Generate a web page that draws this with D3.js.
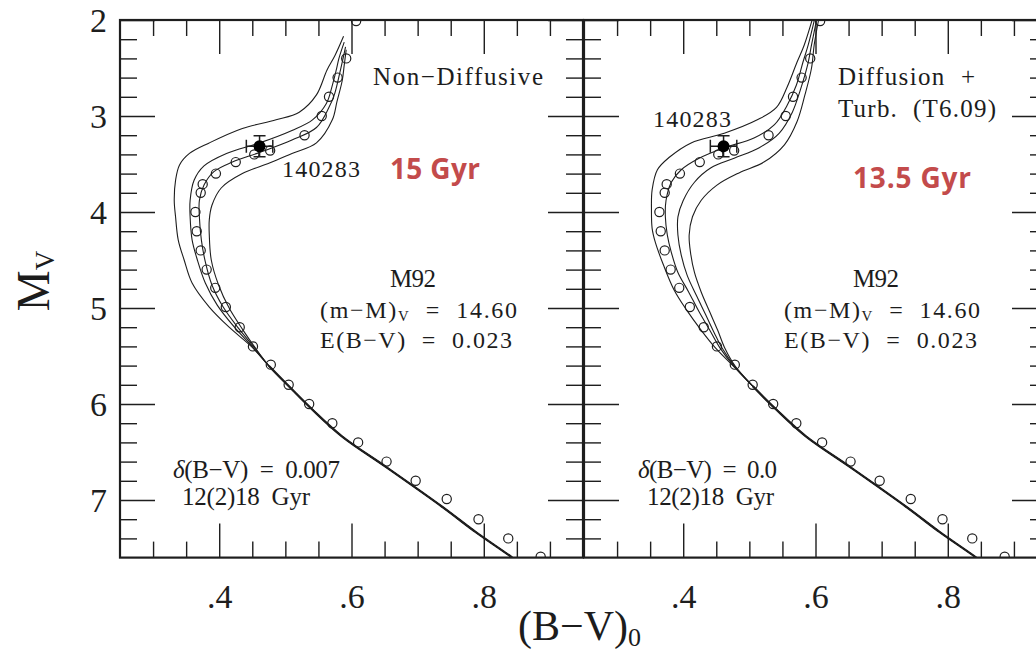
<!DOCTYPE html>
<html>
<head>
<meta charset="utf-8">
<script src="https://cdn.jsdelivr.net/npm/d3@7"></script>
<style>
  html, body { margin: 0; padding: 0; background: #fff; }
  svg { display: block; }
  .lbl { font-family: "Liberation Serif", "Times New Roman", serif; fill: #1c1c1c; white-space: pre; }
  .age { font-family: "Open Sans", sans-serif; font-weight: 700; fill: #c34b4b; white-space: pre; }
</style>
</head>
<body>
<svg id="chart" width="1036" height="655"></svg>
<script>
// ---- Axis ticks -----------------------------------------------------------
const xMajorTicks = [0.4, 0.6, 0.8];
const xTickLabels = [".4", ".6", ".8"];
const xMinorTicks = [0.30, 0.35, 0.45, 0.50, 0.55, 0.65, 0.70, 0.75, 0.85, 0.90];
const yMajorTicks = [2, 3, 4, 5, 6, 7];
const yTickLabels = ["2", "3", "4", "5", "6", "7"];
const yMinorTicks = [2.2, 2.4, 2.6, 2.8, 3.2, 3.4, 3.6, 3.8, 4.2, 4.4, 4.6, 4.8,
                     5.2, 5.4, 5.6, 5.8, 6.2, 6.4, 6.6, 6.8, 7.2, 7.4];

// ---- M92 fiducial sequence: (B-V)0 and M_V --------------------------------
const fiducialBV = [0.607, 0.592, 0.579, 0.566, 0.555, 0.529, 0.477, 0.453, 0.425, 0.395,
                    0.375, 0.372, 0.364, 0.366, 0.372, 0.381, 0.394, 0.410, 0.431, 0.451,
                    0.478, 0.505, 0.536, 0.571, 0.610, 0.653, 0.697, 0.744, 0.792, 0.837, 0.886];
const fiducialMV = [2.01, 2.40, 2.60, 2.80, 3.00, 3.20, 3.36, 3.40, 3.48, 3.60,
                    3.71, 3.80, 4.00, 4.20, 4.40, 4.60, 4.79, 4.99, 5.20, 5.40,
                    5.59, 5.80, 6.00, 6.20, 6.40, 6.60, 6.80, 6.99, 7.20, 7.40, 7.59];

// ---- HD 140283 ------------------------------------------------------------
const starBV = 0.461, starMV = 3.315;
const starErrBV = 0.02, starErrMV = 0.11;

// ---- Isochrones, 12(2)18 Gyr, upper parts [B-V, M_V] -----------------------
// Non-diffusive models
const nonDiff12 = [[0.588,2.17],[0.575,2.37],[0.563,2.52],[0.547,2.78],[0.521,2.96],[0.486,3.04],
  [0.435,3.13],[0.385,3.28],[0.355,3.39],[0.340,3.51],[0.334,3.67],[0.332,3.88],[0.334,4.05],
  [0.338,4.29],[0.347,4.50],[0.359,4.74],[0.385,4.99],[0.415,5.20],[0.450,5.41]];
const nonDiff14 = [[0.589,2.23],[0.581,2.40],[0.577,2.52],[0.571,2.68],[0.562,2.87],[0.541,3.04],
  [0.510,3.15],[0.461,3.28],[0.411,3.39],[0.377,3.52],[0.362,3.67],[0.356,3.88],[0.356,4.05],
  [0.359,4.29],[0.367,4.50],[0.379,4.74],[0.397,4.97],[0.423,5.20],[0.451,5.41]];
const nonDiff16 = [[0.591,2.28],[0.586,2.44],[0.581,2.59],[0.574,2.78],[0.566,2.91],[0.547,3.12],
  [0.510,3.25],[0.461,3.38],[0.420,3.48],[0.392,3.58],[0.377,3.72],[0.370,3.88],[0.370,4.05],
  [0.373,4.29],[0.379,4.52],[0.389,4.76],[0.406,4.99],[0.429,5.21],[0.453,5.41]];
const nonDiff18 = [[0.592,2.31],[0.589,2.47],[0.586,2.63],[0.578,2.85],[0.571,3.04],[0.547,3.28],
  [0.510,3.39],[0.476,3.49],[0.435,3.60],[0.403,3.75],[0.389,3.93],[0.385,4.08],[0.385,4.24],
  [0.388,4.50],[0.399,4.76],[0.415,5.00],[0.436,5.23],[0.454,5.41]];

// Diffusion + turbulence (T6.09) models
const diff12 = [[0.597,1.95],[0.583,2.26],[0.572,2.44],[0.557,2.70],[0.541,2.91],[0.512,3.04],
  [0.462,3.18],[0.412,3.28],[0.379,3.43],[0.361,3.56],[0.353,3.77],[0.352,3.98],[0.353,4.17],
  [0.358,4.32],[0.370,4.55],[0.386,4.81],[0.405,5.02],[0.427,5.23],[0.448,5.41],[0.475,5.60]];
const diff14 = [[0.600,1.95],[0.589,2.26],[0.581,2.44],[0.571,2.68],[0.557,2.89],[0.538,3.09],
  [0.507,3.23],[0.462,3.33],[0.424,3.44],[0.397,3.56],[0.382,3.69],[0.374,3.88],[0.373,4.05],
  [0.376,4.24],[0.382,4.42],[0.392,4.63],[0.408,4.83],[0.424,5.04],[0.440,5.23],[0.455,5.41],[0.476,5.60]];
const diff16 = [[0.603,1.95],[0.594,2.26],[0.588,2.47],[0.577,2.73],[0.565,2.96],[0.545,3.18],
  [0.515,3.33],[0.477,3.44],[0.442,3.54],[0.417,3.69],[0.400,3.88],[0.392,4.05],[0.392,4.24],
  [0.397,4.45],[0.406,4.66],[0.420,4.87],[0.434,5.07],[0.447,5.26],[0.459,5.42],[0.477,5.60]];
const diff18 = [[0.606,1.95],[0.598,2.26],[0.594,2.50],[0.584,2.78],[0.572,3.06],[0.553,3.30],
  [0.522,3.48],[0.485,3.59],[0.451,3.72],[0.427,3.88],[0.414,4.05],[0.409,4.24],[0.411,4.42],
  [0.417,4.63],[0.427,4.83],[0.440,5.04],[0.452,5.23],[0.463,5.42],[0.478,5.60]];

// Lower main sequence shared by all ages
const lowerMS = [[0.476,5.61],[0.506,5.82],[0.541,6.06],[0.586,6.34],[0.653,6.66],
  [0.737,7.07],[0.789,7.34],[0.843,7.60],[0.848,7.63]];

// ---- Layout -----------------------------------------------------------------
const svg = d3.select("#chart");
const ink = "#1e1e1e";
const xDomain = [0.25, 0.95];
const yDomain = [2, 7.6];
const panelWidth = 463;
const y = d3.scaleLinear().domain(yDomain).range([20, 557.6]);
const defs = svg.append("defs");

const panels = [
  { id: "nd", left: 120, isochrones: [nonDiff12, nonDiff14, nonDiff16, nonDiff18], msStart: 5.6, yLabels: true },
  { id: "df", left: 584, isochrones: [diff12, diff14, diff16, diff18], msStart: 5.8, yLabels: false }
];

function styleAxis(g, width) {
  g.select(".domain").remove();
  g.attr("color", ink);
  g.selectAll(".tick line").attr("stroke-width", width);
}

panels.forEach(p => {
  const x = d3.scaleLinear().domain(xDomain).range([p.left, p.left + panelWidth]);
  const g = svg.append("g");

  defs.append("clipPath").attr("id", "clip-" + p.id).append("rect")
    .attr("x", x(xDomain[0])).attr("y", y(yDomain[0]))
    .attr("width", x(xDomain[1]) - x(xDomain[0]))
    .attr("height", y(yDomain[1]) - y(yDomain[0]));
  const plot = g.append("g").attr("clip-path", `url(#clip-${p.id})`);

  const line = d3.line().x(d => x(d[0])).y(d => y(d[1])).curve(d3.curveCatmullRom.alpha(0.5));

  // isochrones
  p.isochrones.forEach(iso => {
    const lastMV = iso[iso.length - 1][1];
    const pts = iso.concat(lowerMS.filter(d => d[1] > lastMV + 0.05));
    plot.append("path").attr("d", line(pts))
      .attr("fill", "none").attr("stroke", ink).attr("stroke-width", 1.1);
  });
  // merged main sequence
  plot.append("path").attr("d", line(lowerMS.filter(d => d[1] >= p.msStart - 0.05)))
    .attr("fill", "none").attr("stroke", ink).attr("stroke-width", 2.3)
    .attr("stroke-linecap", "round");

  // fiducial points
  plot.selectAll("circle.fid")
    .data(fiducialBV.map((b, i) => [b, fiducialMV[i]]))
    .join("circle").attr("class", "fid")
    .attr("cx", d => x(d[0])).attr("cy", d => y(d[1])).attr("r", 4.6)
    .attr("fill", "none").attr("stroke", ink).attr("stroke-width", 1.2);

  // HD 140283 with error bars
  const sx = x(starBV), sy = y(starMV);
  const eb = plot.append("g").attr("stroke", ink).attr("stroke-width", 1.5).attr("fill", "none");
  eb.append("line").attr("x1", sx).attr("x2", sx).attr("y1", y(starMV - starErrMV)).attr("y2", y(starMV + starErrMV));
  eb.append("line").attr("x1", sx - 6).attr("x2", sx + 6).attr("y1", y(starMV - starErrMV)).attr("y2", y(starMV - starErrMV));
  eb.append("line").attr("x1", sx - 6).attr("x2", sx + 6).attr("y1", y(starMV + starErrMV)).attr("y2", y(starMV + starErrMV));
  eb.append("line").attr("x1", x(starBV - starErrBV)).attr("x2", x(starBV + starErrBV)).attr("y1", sy).attr("y2", sy);
  eb.append("line").attr("x1", x(starBV - starErrBV)).attr("x2", x(starBV - starErrBV)).attr("y1", sy - 6.5).attr("y2", sy + 6.5);
  eb.append("line").attr("x1", x(starBV + starErrBV)).attr("x2", x(starBV + starErrBV)).attr("y1", sy - 6.5).attr("y2", sy + 6.5);
  plot.append("circle").attr("cx", sx).attr("cy", sy).attr("r", 6).attr("fill", "#000");

  // ticks on all four sides, pointing inward
  const xT = y(yDomain[0]), xB = y(yDomain[1]);
  const yL = x(xDomain[0]), yR = x(xDomain[1]);
  g.append("g").attr("transform", `translate(0,${xT})`)
    .call(d3.axisTop(x).tickValues(xMinorTicks).tickSizeInner(-16).tickSizeOuter(0).tickFormat(""))
    .call(a => styleAxis(a, 1.4));
  g.append("g").attr("transform", `translate(0,${xT})`)
    .call(d3.axisTop(x).tickValues(xMajorTicks).tickSizeInner(-34).tickSizeOuter(0).tickFormat(""))
    .call(a => styleAxis(a, 1.4));
  g.append("g").attr("transform", `translate(0,${xB})`)
    .call(d3.axisBottom(x).tickValues(xMinorTicks).tickSizeInner(-16).tickSizeOuter(0).tickFormat(""))
    .call(a => styleAxis(a, 1.4));
  const bottomMajor = g.append("g").attr("transform", `translate(0,${xB})`)
    .call(d3.axisBottom(x).tickValues(xMajorTicks).tickSizeInner(-34).tickSizeOuter(0)
      .tickFormat((d, i) => xTickLabels[i]))
    .call(a => styleAxis(a, 1.4));
  bottomMajor.attr("font-family", "'Liberation Serif', serif").attr("font-size", 34);
  bottomMajor.selectAll("text").attr("y", 50).attr("dy", 0).attr("fill", ink);

  g.append("g").attr("transform", `translate(${yL},0)`)
    .call(d3.axisLeft(y).tickValues(yMinorTicks).tickSizeInner(-17).tickSizeOuter(0).tickFormat(""))
    .call(a => styleAxis(a, 1.4));
  const leftMajor = g.append("g").attr("transform", `translate(${yL},0)`)
    .call(d3.axisLeft(y).tickValues(yMajorTicks).tickSizeInner(-35).tickSizeOuter(0)
      .tickPadding(13).tickFormat((d, i) => p.yLabels ? yTickLabels[i] : ""))
    .call(a => styleAxis(a, 1.4));
  leftMajor.attr("font-family", "'Liberation Serif', serif").attr("font-size", 34);
  leftMajor.selectAll("text").attr("dy", "0.33em").attr("fill", ink);

  g.append("g").attr("transform", `translate(${yR},0)`)
    .call(d3.axisRight(y).tickValues(yMinorTicks).tickSizeInner(-17).tickSizeOuter(0).tickFormat(""))
    .call(a => styleAxis(a, 1.4));
  g.append("g").attr("transform", `translate(${yR},0)`)
    .call(d3.axisRight(y).tickValues(yMajorTicks).tickSizeInner(-35).tickSizeOuter(0).tickFormat(""))
    .call(a => styleAxis(a, 1.4));

  // frame
  g.append("rect").attr("x", yL).attr("y", xT).attr("width", yR - yL).attr("height", xB - xT)
    .attr("fill", "none").attr("stroke", ink).attr("stroke-width", 2.2);
});

// ---- Annotations ------------------------------------------------------------
function addText(parts, x, yb, width, size, cls) {
  const t = svg.append("text").attr("class", cls || "lbl")
    .attr("x", x).attr("y", yb).attr("font-size", size);
  let shift = 0;
  parts.forEach(([s, kind]) => {
    const ts = t.append("tspan").text(s);
    if (kind === "sub") {
      ts.attr("font-size", size * 0.62).attr("dy", 3 - shift); shift = 3;
    } else {
      if (shift) { ts.attr("dy", -shift); shift = 0; }
      if (kind === "it") ts.attr("font-style", "italic");
    }
  });
  if (width) t.attr("textLength", width).attr("lengthAdjust", "spacing");
  return t;
}

// Non-diffusive panel
addText([["Non−Diffusive"]], 373, 85, 170, 25);
addText([["140283"]], 282, 177, 78, 24);
addText([["M92"]], 390, 287, 46, 25);
addText([["(m−M)"], ["V", "sub"], ["  =  14.60"]], 320, 318, 197, 24);
addText([["E(B−V)  =  0.023"]], 320, 348, 192, 24);
addText([["δ", "it"], ["(B−V)  =  0.007"]], 173, 478, 167, 25);
addText([["12(2)18  Gyr"]], 182, 505, 128, 25);
addText([["15 Gyr"]], 390, 179, 90, 28, "age");

// Diffusion panel
addText([["Diffusion  +"]], 838, 85, 137, 25);
addText([["Turb.  (T6.09)"]], 838, 117, 158, 25);
addText([["140283"]], 653, 127, 78, 24);
addText([["M92"]], 853, 287, 46, 25);
addText([["(m−M)"], ["V", "sub"], ["  =  14.60"]], 784, 318, 196, 24);
addText([["E(B−V)  =  0.023"]], 784, 348, 193, 24);
addText([["δ", "it"], ["(B−V)  =  0.0"]], 638, 478, 139, 25);
addText([["12(2)18  Gyr"]], 647, 505, 127, 25);
addText([["13.5 Gyr"]], 853, 188, 118, 28, "age");

// ---- Axis titles ------------------------------------------------------------
const xt = svg.append("text").attr("class", "lbl").attr("x", 518).attr("y", 640).attr("font-size", 42);
xt.append("tspan").text("(B−V)");
xt.append("tspan").text("0").attr("font-size", 26).attr("dy", 6);

const yt = svg.append("text").attr("class", "lbl").attr("font-size", 46)
  .attr("text-anchor", "middle").attr("transform", "translate(49,281) rotate(-90)");
yt.append("tspan").text("M");
yt.append("tspan").text("V").attr("font-size", 27).attr("dy", 5);
</script>
</body>
</html>
